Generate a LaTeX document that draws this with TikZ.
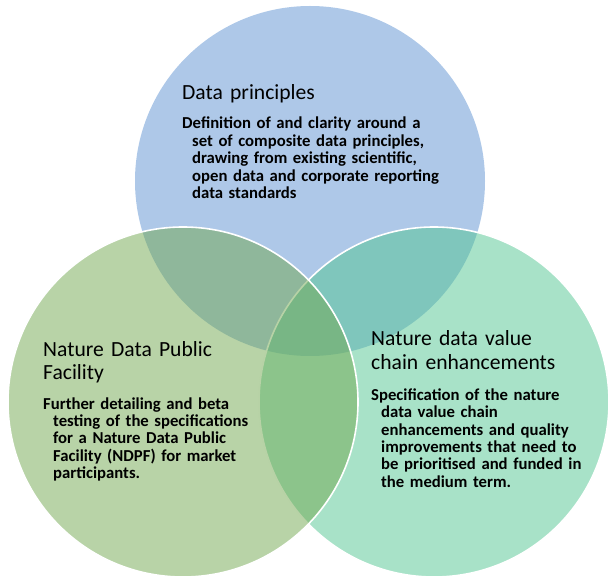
\documentclass[tikz,border=0pt]{standalone}
\usepackage{fontspec}
\setmainfont{Carlito}
\definecolor{principlesblue}{RGB}{93,145,209}
\definecolor{facilitygreen}{RGB}{113,167,79}
\definecolor{chainmint}{RGB}{81,197,145}

\begin{document}
\begin{tikzpicture}[x=1pt,y=-1pt,
    vcircle/.style={fill opacity=0.5, draw=white, line width=1.6pt},
    vhead/.style={anchor=base west, align=left, inner sep=0pt, text width=#1,
      font=\fontsize{21.6}{23.5}\selectfont},
    vbody/.style={anchor=base west, align=left, inner sep=0pt, text width=#1,
      font=\bfseries\fontsize{16.7}{17.5}\selectfont}]
    \useasboundingbox (0,0) rectangle (608,577);
    % Circulos (topo, direita, esquerda)
    \fill[principlesblue, fill opacity=0.5] (310,181) circle (175);
    \filldraw[vcircle, fill=chainmint] (434,402) circle (175);
    \filldraw[vcircle, fill=facilitygreen] (183,402) circle (175);
    % Data principles
    \node[vhead=250pt] (hdata) at (182,100) {Data principles};
    \node[vbody=280pt] (bdata) at (182,129) {\hangindent=10pt\hangafter=1
      Definition of and clarity around a\newline
      set of composite data principles,\newline
      drawing from existing scientific,\newline
      open data and corporate reporting\newline
      data standards\par};
    % Nature Data Public Facility
    \node[vhead=250pt] (hfacility) at (43,356) {Nature Data Public\\Facility};
    \node[vbody=240pt] (bfacility) at (43,409) {\hangindent=10pt\hangafter=1
      Further detailing and beta\newline
      testing of the specifications\newline
      for a Nature Data Public\newline
      Facility (NDPF) for market\newline
      participants.\par};
    % Nature data value chain enhancements
    \node[vhead=230pt] (hchain) at (371,346) {Nature data value\\chain enhancements};
    \node[vbody=230pt] (bchain) at (371,400) {\hangindent=10pt\hangafter=1
      Specification of the nature\newline
      data value chain\newline
      enhancements and quality\newline
      improvements that need to\newline
      be prioritised and funded in\newline
      the medium term.\par};
\end{tikzpicture}
\end{document}
